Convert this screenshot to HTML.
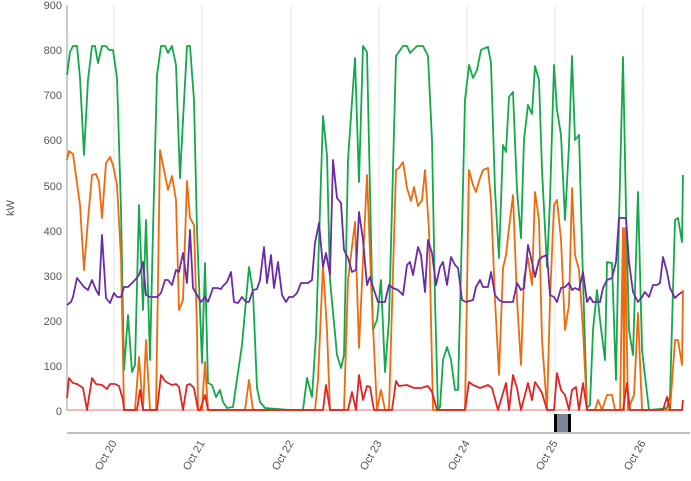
<!DOCTYPE html>
<html><head><meta charset="utf-8"><style>
html,body{margin:0;padding:0;background:#fff;width:691px;height:481px;overflow:hidden}
text{font-family:"Liberation Sans",sans-serif;fill:#555;font-size:11px}
polyline{fill:none;stroke-width:1.8;stroke-linejoin:round}
</style></head><body>
<svg width="691" height="481" xmlns="http://www.w3.org/2000/svg">
<g stroke="#e3e3e3" stroke-width="1">
<line x1="114" y1="5" x2="114" y2="411"/><line x1="202" y1="5" x2="202" y2="411"/><line x1="291" y1="5" x2="291" y2="411"/><line x1="379" y1="5" x2="379" y2="411"/><line x1="467" y1="5" x2="467" y2="411"/><line x1="555" y1="5" x2="555" y2="411"/><line x1="643" y1="5" x2="643" y2="411"/>
</g>
<line x1="67" y1="5" x2="67" y2="411" stroke="#aaa" stroke-width="1.2"/>
<line x1="67" y1="433" x2="690" y2="433" stroke="#aaa" stroke-width="1.5"/>
<g text-anchor="end">
<text x="62" y="9">900</text><text x="62" y="54">800</text><text x="62" y="99">700</text><text x="62" y="144">600</text><text x="62" y="190">500</text><text x="62" y="235">400</text><text x="62" y="280">300</text><text x="62" y="325">200</text><text x="62" y="370">100</text><text x="62" y="415">0</text>
</g>
<text x="14" y="208" text-anchor="middle" transform="rotate(-90 14 208)">kW</text>
<g text-anchor="end">
<text transform="translate(117,443) rotate(-60)">Oct 20</text>
<text transform="translate(205,443) rotate(-60)">Oct 21</text>
<text transform="translate(294,443) rotate(-60)">Oct 22</text>
<text transform="translate(382,443) rotate(-60)">Oct 23</text>
<text transform="translate(470,443) rotate(-60)">Oct 24</text>
<text transform="translate(558,443) rotate(-60)">Oct 25</text>
<text transform="translate(646,443) rotate(-60)">Oct 26</text>
</g>
<line x1="67" y1="410" x2="683" y2="410" stroke="#f4a0a0" stroke-width="1.5"/>
<polyline stroke="#13a84a" points="67,75 70,52 73,46 77,46 80,78 84,155 88,80 92,46 95,46 98,63 102,46 106,46 109,50 113,50 117,78 121,210 124,370 128,315 132,372 135,365 139,205 143,310 146,220 150,360 153,230 157,75 161,46 165,46 168,53 172,46 176,65 180,178 183,120 187,46 190,46 194,100 197,230 202,363 205,263 208,383 212,385 216,397 220,390 223,402 227,408 233,407 242,345 249,267 253,292 257,388 260,402 265,408 290,410 303,410 307,378 312,397 316,335 323,116 327,155 330,280 337,355 341,368 344,355 348,160 355,58 359,182 363,46 367,52 373,330 377,320 381,280 385,372 389,320 396,56 403,46 407,46 410,53 417,46 423,46 428,56 432,140 435,300 438,410 440,407 443,360 447,347 451,360 455,390 458,390 462,230 465,100 469,65 473,78 477,70 481,50 485,48 488,47 491,63 495,190 499,258 503,145 506,152 509,97 513,92 517,190 521,238 524,140 528,105 532,114 535,66 539,80 542,170 547,267 550,200 554,65 557,110 561,135 565,220 569,145 572,56 575,140 579,135 583,280 587,408 590,405 593,330 597,290 600,320 605,360 607,262 612,263 616,380 619,220 623,57 626,210 629,330 633,355 638,192 642,350 649,410 660,409 667,408 670,396 675,220 678,218 682,242 683,175"/>
<polyline stroke="#ee6a0c" points="67,160 69,151 73,154 80,205 84,270 88,220 92,175 96,174 99,182 102,218 106,163 110,157 113,165 117,185 121,258 124,410 135,410 139,357 143,410 146,340 150,410 156,410 160,150 165,175 168,190 172,176 176,200 179,310 183,300 187,181 190,218 194,225 197,330 198,410 202,410 205,362 208,410 245,410 249,380 253,410 315,410 318,380 323,265 327,330 330,410 344,410 348,280 355,222 359,348 363,260 367,175 372,305 377,410 381,390 385,410 389,410 396,170 399,168 403,162 407,188 411,201 414,187 418,206 422,200 425,170 429,230 433,410 465,410 469,170 473,185 476,192 480,178 483,170 488,168 491,200 495,300 499,375 503,268 506,255 509,228 513,195 517,300 521,365 524,278 528,258 532,285 535,192 539,220 542,340 547,410 550,300 554,205 557,200 561,240 565,330 569,305 572,188 575,255 579,270 583,330 587,410 595,410 598,400 602,410 607,395 612,395 615,410 620,410 623,228 624,410 625,228 628,410 634,395 638,313 642,410 670,410 675,340 678,340 682,365 683,290"/>
<polyline stroke="#6b2aa8" points="67,305 71,302 73,297 77,278 84,287 88,290 92,280 96,290 99,295 102,235 106,298 110,303 114,293 117,297 121,297 124,287 128,287 132,283 135,280 139,275 143,262 146,295 150,297 157,297 161,293 165,280 168,280 172,285 176,270 179,272 183,253 187,283 190,230 193,288 197,295 201,302 205,297 208,302 213,288 217,288 221,289 223,286 227,282 231,272 234,302 238,303 242,297 246,302 249,302 253,290 257,289 260,280 264,247 267,283 271,255 274,288 278,262 282,295 286,302 289,297 293,297 297,293 301,283 305,283 308,283 312,280 315,243 319,223 323,267 326,253 330,275 333,160 337,198 341,203 344,250 348,258 352,272 356,270 359,212 363,240 367,285 370,277 374,290 378,302 385,302 389,285 393,288 398,290 403,295 407,265 410,262 413,275 418,247 421,255 425,292 428,240 432,253 436,285 440,267 443,262 447,285 451,257 455,265 458,268 462,300 466,302 473,300 476,287 480,280 483,287 488,287 491,272 495,295 499,300 503,302 513,302 517,283 521,290 524,288 528,245 532,262 535,277 539,260 542,257 547,255 550,295 554,297 557,302 561,288 565,287 569,283 572,290 575,288 579,290 583,272 587,302 590,297 593,302 600,302 603,288 607,280 612,278 616,262 619,218 626,218 629,262 633,292 638,302 642,297 645,292 649,297 653,285 657,285 660,283 663,257 667,272 670,288 675,298 678,295 682,292"/>
<polyline stroke="#e02424" points="67,398 69,378 73,383 77,384 83,388 87,410 92,378 96,384 102,385 107,389 110,384 115,384 119,386 123,400 124,410 137,410 140,390 143,410 157,410 161,375 165,381 168,383 172,385 176,384 179,387 183,410 187,385 190,384 194,388 198,410 200,410 205,395 208,410 323,410 326,385 330,410 348,410 352,392 356,410 359,375 363,400 367,386 370,387 374,410 392,410 396,381 399,386 407,385 414,388 421,388 428,386 432,392 437,410 465,410 469,382 473,385 480,388 488,385 492,388 498,410 506,383 509,410 513,375 517,388 521,410 528,383 532,400 535,382 539,388 542,393 547,410 554,410 557,373 561,390 565,395 569,410 572,390 576,387 579,410 583,383 587,410 623,410 627,383 630,410 663,410 667,397 670,410 682,410 683,400"/>
<rect x="554" y="414" width="17" height="18" fill="#7a8696"/>
<rect x="554" y="414" width="3" height="18" fill="#000"/>
<rect x="568" y="414" width="3" height="18" fill="#000"/>
</svg>
</body></html>
